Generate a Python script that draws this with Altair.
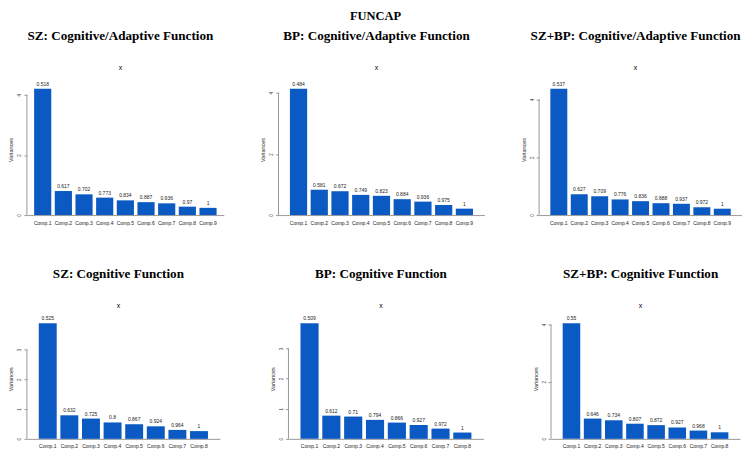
import altair as alt
import pandas as pd

comps9 = ["Comp.1", "Comp.2", "Comp.3", "Comp.4", "Comp.5", "Comp.6", "Comp.7", "Comp.8", "Comp.9"]
comps8 = comps9[:8]

sz_ca = [4.20, 0.80, 0.69, 0.58, 0.49, 0.43, 0.39, 0.28, 0.24]
sz_ca_cum = ["0.518", "0.617", "0.702", "0.773", "0.834", "0.887", "0.936", "0.97", "1"]
bp_ca = [4.13, 0.83, 0.78, 0.66, 0.63, 0.52, 0.44, 0.33, 0.21]
bp_ca_cum = ["0.484", "0.581", "0.672", "0.749", "0.823", "0.884", "0.936", "0.975", "1"]
szbp_ca = [4.36, 0.72, 0.65, 0.54, 0.48, 0.41, 0.39, 0.27, 0.22]
szbp_ca_cum = ["0.537", "0.627", "0.709", "0.776", "0.836", "0.888", "0.937", "0.972", "1"]

sz_c = [3.88, 0.79, 0.68, 0.55, 0.49, 0.42, 0.30, 0.26]
sz_c_cum = ["0.525", "0.632", "0.725", "0.8", "0.867", "0.924", "0.964", "1"]
bp_c = [3.84, 0.77, 0.74, 0.63, 0.54, 0.46, 0.34, 0.21]
bp_c_cum = ["0.509", "0.612", "0.71", "0.794", "0.866", "0.927", "0.972", "1"]
szbp_c = [4.05, 0.71, 0.65, 0.53, 0.48, 0.40, 0.29, 0.23]
szbp_c_cum = ["0.55", "0.646", "0.734", "0.807", "0.872", "0.927", "0.968", "1"]

titles = [
    "SZ: Cognitive/Adaptive Function", "BP: Cognitive/Adaptive Function", "SZ+BP: Cognitive/Adaptive Function",
    "SZ: Cognitive Function", "BP: Cognitive Function", "SZ+BP: Cognitive Function",
]

BAR = "#0b59c2"
SANS = "Liberation Sans"
SERIF = "Liberation Serif"


def panel(title, comps, variances, cum, width, height, pad_outer, offset):
    df = pd.DataFrame({"comp": comps, "var": variances, "cum": cum})
    ymax = max(variances) * 1.04
    ticks = list(range(0, int(max(variances)) + 1))
    xenc = alt.X(
        "comp:N", sort=comps,
        scale=alt.Scale(paddingInner=0.17, paddingOuter=pad_outer),
        axis=alt.Axis(title=None, labelAngle=0, ticks=False, domain=True, domainColor="#999999",
                      labelFontSize=5, labelPadding=5, labelFont=SANS, labelColor="#222222"),
    )
    yenc = alt.Y(
        "var:Q",
        scale=alt.Scale(domain=[0, ymax], nice=False, zero=True),
        axis=alt.Axis(title="Variances", values=ticks, domain=False, grid=False, labelAngle=270,
                      labelFontSize=4.5, labelFont=SANS, labelColor="#333333", tickSize=3,
                      tickColor="#999999", labelPadding=2, titleFont=SANS, titleFontSize=5.5,
                      titleFontWeight="normal", titleColor="#222222", titlePadding=3),
    )
    bars = alt.Chart(df).mark_bar(color=BAR).encode(x=xenc, y=yenc)
    text = alt.Chart(df).mark_text(dy=-2, fontSize=5, font=SANS, color="#222222", baseline="bottom").encode(
        x=alt.X("comp:N", sort=comps),
        y=alt.Y("var:Q"),
        text="cum:N",
    )
    ax = pd.DataFrame({"y0": [ticks[0]], "y1": [ticks[-1]]})
    axisline = alt.Chart(ax).mark_rule(color="#999999", strokeWidth=1).encode(
        x=alt.value(0), y=alt.Y("y0:Q"), y2="y1:Q"
    )
    return alt.layer(bars, text, axisline).properties(
        width=width, height=height,
        title=alt.TitleParams(
            title, subtitle="x", font=SERIF, fontSize=13.2, fontWeight="bold", color="#000000",
            subtitleFont=SANS, subtitleFontSize=7, subtitleColor="#000000", subtitlePadding=21,
            anchor="middle", frame="group", offset=offset, dx=-5,
        ),
    )


p1 = panel(titles[0], comps9, sz_ca, sz_ca_cum, 198, 132, 0.35, 10)
p2 = panel(titles[1], comps9, bp_ca, bp_ca_cum, 207, 132, 0.55, 10)
p3 = panel(titles[2], comps9, szbp_ca, szbp_ca_cum, 204, 132, 0.55, 10)
p4 = panel(titles[3], comps8, sz_c, sz_c_cum, 194, 121, 0.55, 6)
p5 = panel(titles[4], comps8, bp_c, bp_c_cum, 196, 121, 0.55, 6)
p6 = panel(titles[5], comps8, szbp_c, szbp_c_cum, 190, 121, 0.55, 6)

row1 = alt.hconcat(p1, p2, p3, spacing=37)
row2 = alt.hconcat(p4, p5, p6, spacing=50)

chart = alt.vconcat(
    row1, row2, spacing=42,
    title=alt.TitleParams("FUNCAP", font=SERIF, fontSize=12.5, fontWeight="bold", anchor="middle", offset=7),
).properties(padding=0).configure_view(stroke=None)

chart.save("out.html", embed_options={"renderer": "svg", "actions": False})
